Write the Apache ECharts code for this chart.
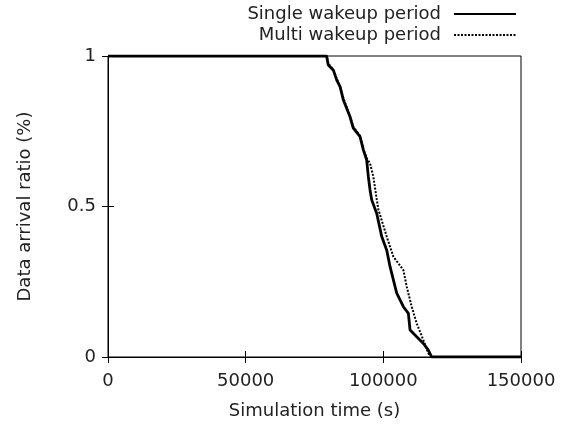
<!DOCTYPE html>
<html>
<head>
<meta charset="utf-8">
<script src="https://cdn.jsdelivr.net/npm/echarts@6/dist/echarts.min.js"></script>
<style>html,body{margin:0;padding:0;background:#fff}#c{width:569px;height:425px}</style>
</head>
<body>
<div id="c"></div>
<script>
var seriesNames = ["Single wakeup period", "Multi wakeup period"];
var xTicks = [0, 50000, 100000, 150000];
var yTicks = [0, 0.5, 1];
var singleT = [0, 79400, 80000, 81850, 83070, 84270, 85480, 87900, 89100, 91540, 92740, 93950, 94560, 95170, 95780, 97600, 99420, 101230, 102440, 104860, 107280, 109090, 109700, 112120, 114540, 116350, 117560, 150000];
var singleV = [1, 1, 0.97, 0.953, 0.92, 0.898, 0.854, 0.798, 0.76, 0.732, 0.688, 0.654, 0.599, 0.555, 0.522, 0.477, 0.40, 0.355, 0.30, 0.212, 0.167, 0.145, 0.09, 0.067, 0.045, 0.023, 0, 0];
var multiT = [0, 79400, 80000, 81850, 83070, 84270, 85480, 87900, 89100, 91540, 92740, 94000, 95170, 96370, 97500, 98190, 101230, 103650, 107280, 108490, 110300, 112120, 114540, 116350, 117560, 150000];
var multiV = [1, 1, 0.975, 0.955, 0.925, 0.9, 0.86, 0.80, 0.765, 0.735, 0.69, 0.66, 0.643, 0.599, 0.53, 0.49, 0.40, 0.333, 0.289, 0.234, 0.167, 0.112, 0.056, 0.012, 0, 0];

function zip(a, b) { return a.map(function (v, i) { return [v, b[i]]; }); }

var FONT = "DejaVu Sans";
var TXT = "#222";
var chart = echarts.init(document.getElementById('c'), null, {renderer: 'canvas'});
var xmin = xTicks[0], xmax = xTicks[xTicks.length - 1], xint = xTicks[1] - xTicks[0];
var ymin = yTicks[0], ymax = yTicks[yTicks.length - 1], yint = yTicks[1] - yTicks[0];
chart.setOption({
  animation: false,
  backgroundColor: '#fff',
  grid: {left: 108, right: 48, top: 56, bottom: 68, show: true, borderColor: '#000', borderWidth: 1, backgroundColor: 'transparent'},
  legend: {
    orient: 'vertical', right: 52, top: 5, padding: 0, align: 'right', itemWidth: 62, itemHeight: 10, itemGap: 3,
    itemStyle: {opacity: 0},
    textStyle: {fontFamily: FONT, fontSize: 18, color: TXT, lineHeight: 18, padding: [0, 8, 0, 0]},
    data: seriesNames
  },
  xAxis: [{
    type: 'value', min: xmin, max: xmax, interval: xint,
    name: 'Simulation time (s)', nameLocation: 'middle', nameGap: 45,
    nameTextStyle: {fontFamily: FONT, fontSize: 18, color: TXT},
    axisLine: {show: true, lineStyle: {color: '#000', width: 1}},
    axisTick: {show: true, inside: true, length: 6, lineStyle: {color: '#000'}},
    axisLabel: {fontFamily: FONT, fontSize: 18, color: TXT, margin: 15, formatter: function (v) { return String(v); }},
    splitLine: {show: false}
  }, {
    type: 'value', position: 'top', min: xmin, max: xmax, interval: xint,
    axisLine: {show: true, lineStyle: {color: '#000', width: 1}},
    axisTick: {show: true, inside: true, length: 6, lineStyle: {color: '#000'}},
    axisLabel: {show: false}, splitLine: {show: false}
  }],
  yAxis: [{
    type: 'value', min: ymin, max: ymax, interval: yint,
    name: 'Data arrival ratio (%)', nameLocation: 'middle', nameGap: 74, nameRotate: 90,
    nameTextStyle: {fontFamily: FONT, fontSize: 18, color: TXT},
    axisLine: {show: true, lineStyle: {color: '#000', width: 1}},
    axisTick: {show: true, inside: true, length: 6, lineStyle: {color: '#000'}},
    axisLabel: {fontFamily: FONT, fontSize: 18, color: TXT, margin: 12, formatter: function (v) { return String(v); }},
    splitLine: {show: false}
  }, {
    type: 'value', position: 'right', min: ymin, max: ymax, interval: yint,
    axisLine: {show: true, lineStyle: {color: '#000', width: 1}},
    axisTick: {show: true, inside: true, length: 6, lineStyle: {color: '#000'}},
    axisLabel: {show: false}, splitLine: {show: false}
  }],
  series: [{
    name: seriesNames[0], type: 'line', xAxisIndex: 0, yAxisIndex: 0,
    data: zip(singleT, singleV), symbol: 'none', z: 3,
    lineStyle: {color: '#000', width: 2.8, type: 'solid'},
    itemStyle: {color: '#000'}
  }, {
    name: seriesNames[1], type: 'line', xAxisIndex: 0, yAxisIndex: 0,
    data: zip(multiT, multiV), symbol: 'none', z: 2,
    lineStyle: {color: '#000', width: 2, type: [2, 1.5]},
    itemStyle: {color: '#000'}
  }]
});
</script>
</body>
</html>
